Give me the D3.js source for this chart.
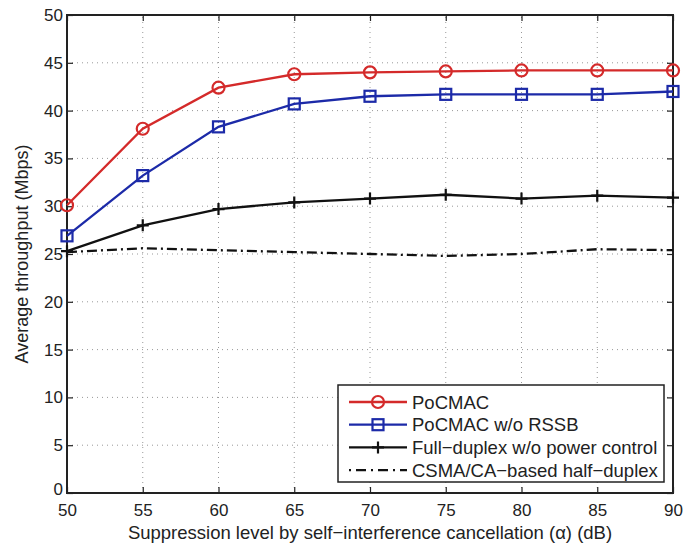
<!DOCTYPE html>
<html>
<head>
<meta charset="utf-8">
<script src="https://cdn.jsdelivr.net/npm/d3@7"></script>
<style>
  body { margin: 0; background: #fff; }
  svg { display: block; font-family: "Liberation Sans", Arial, sans-serif; }
</style>
</head>
<body>
<svg id="chart" width="693" height="545"></svg>
<script>
// suppression level (dB)
const alphaDb = [50, 55, 60, 65, 70, 75, 80, 85, 90];
const pocmac = [30.1, 38.1, 42.4, 43.8, 44.0, 44.1, 44.2, 44.2, 44.2];
const pocmacNoRssb = [26.9, 33.2, 38.3, 40.7, 41.5, 41.7, 41.7, 41.7, 42.0];
const fullDuplex = [25.3, 28.0, 29.7, 30.4, 30.8, 31.2, 30.8, 31.1, 30.9];
const csmaHalf = [25.2, 25.6, 25.4, 25.2, 25.0, 24.8, 25.0, 25.5, 25.4];
const xTicks = [50, 55, 60, 65, 70, 75, 80, 85, 90];
const yTicks = [0, 5, 10, 15, 20, 25, 30, 35, 40, 45, 50];
const seriesNames = ["PoCMAC", "PoCMAC w/o RSSB", "Full\u2212duplex w/o power control", "CSMA/CA\u2212based half\u2212duplex"];

const margin = {left: 67, top: 15, right: 20, bottom: 52};
const width = 693, height = 545;
const svg = d3.select("#chart");
const ink = "#222";

const x = d3.scaleLinear().domain([50, 90]).range([margin.left, width - margin.right]);
const y = d3.scaleLinear().domain([0, 50]).range([height - margin.bottom, margin.top]);

// grid
const grid = svg.append("g").attr("stroke", "#999").attr("stroke-width", 1).attr("stroke-dasharray", "1,4");
grid.selectAll(".gx").data(xTicks.slice(1, -1)).join("line")
  .attr("x1", d => x(d)).attr("x2", d => x(d))
  .attr("y1", y(0)).attr("y2", y(50));
grid.selectAll(".gy").data(yTicks.slice(1, -1)).join("line")
  .attr("y1", d => y(d)).attr("y2", d => y(d))
  .attr("x1", x(50)).attr("x2", x(90));

// axes with inward ticks
const tl = 6;
svg.append("g").attr("transform", `translate(0,${y(0)})`)
  .call(d3.axisBottom(x).tickValues(xTicks).tickSize(-tl).tickPadding(11))
  .call(g => g.select(".domain").remove());
svg.append("g").attr("transform", `translate(0,${y(50)})`)
  .call(d3.axisTop(x).tickValues(xTicks).tickSize(-tl).tickFormat(""))
  .call(g => g.select(".domain").remove());
svg.append("g").attr("class", "yaxis").attr("transform", `translate(${x(50)},0)`)
  .call(d3.axisLeft(y).tickValues(yTicks).tickSize(-tl).tickPadding(4))
  .call(g => g.select(".domain").remove())
  .call(g => g.selectAll(".tick text").filter(d => d === 0).attr("dy", "0.1em"));
svg.append("g").attr("transform", `translate(${x(90)},0)`)
  .call(d3.axisRight(y).tickValues(yTicks).tickSize(-tl).tickFormat(""))
  .call(g => g.select(".domain").remove());
svg.selectAll(".tick text").attr("font-size", 17).attr("fill", ink)
  .attr("font-family", "Liberation Sans, Arial, sans-serif");
svg.selectAll(".tick line").attr("stroke", ink).attr("stroke-width", 1.2);

svg.append("rect")
  .attr("x", x(50)).attr("y", y(50))
  .attr("width", x(90) - x(50)).attr("height", y(0) - y(50))
  .attr("fill", "none").attr("stroke", ink).attr("stroke-width", 2);

// series
const series = [
  {name: seriesNames[0], values: pocmac, color: "#d42a2a", marker: "circle", dash: null},
  {name: seriesNames[1], values: pocmacNoRssb, color: "#1c2aa8", marker: "square", dash: null},
  {name: seriesNames[2], values: fullDuplex, color: "#111", marker: "plus", dash: null},
  {name: seriesNames[3], values: csmaHalf, color: "#111", marker: null, dash: "10,4,2,4"}
];

const line = d3.line().x(d => x(d[0])).y(d => y(d[1]));

function drawMarker(g, type, color) {
  if (type === "circle") {
    g.append("circle").attr("r", 6).attr("fill", "none").attr("stroke", color).attr("stroke-width", 2.2);
  } else if (type === "square") {
    g.append("rect").attr("x", -5.5).attr("y", -5.5).attr("width", 11).attr("height", 11)
      .attr("fill", "none").attr("stroke", color).attr("stroke-width", 2.2);
  } else if (type === "plus") {
    g.append("path").attr("d", "M-6,0H6M0,-6V6").attr("stroke", color).attr("stroke-width", 2.2);
  }
}

series.forEach(s => {
  const pts = alphaDb.map((a, i) => [a, s.values[i]]);
  svg.append("path").datum(pts)
    .attr("d", line).attr("fill", "none")
    .attr("stroke", s.color).attr("stroke-width", 2.3)
    .attr("stroke-dasharray", s.dash);
  if (s.marker) {
    pts.forEach(p => {
      const g = svg.append("g").attr("transform", `translate(${x(p[0])},${y(p[1])})`);
      drawMarker(g, s.marker, s.color);
    });
  }
});

// legend
const lg = svg.append("g").attr("transform", "translate(338,385)");
lg.append("rect").attr("width", 326).attr("height", 97)
  .attr("fill", "#fff").attr("stroke", ink).attr("stroke-width", 1.5);
series.forEach((s, i) => {
  const row = lg.append("g").attr("transform", `translate(0,${17 + i * 22.7})`);
  row.append("line").attr("x1", 11).attr("x2", 69)
    .attr("stroke", s.color).attr("stroke-width", 2.3)
    .attr("stroke-dasharray", s.dash ? "2,5,10,5" : null);
  if (s.marker) {
    const m = row.append("g").attr("transform", "translate(40,0)");
    drawMarker(m, s.marker, s.color);
  }
  row.append("text").attr("x", 74).attr("y", 6.5)
    .attr("font-size", 18.5).attr("fill", ink).text(s.name);
});

// axis titles
svg.append("text")
  .attr("x", (x(50) + x(90)) / 2).attr("y", 539)
  .attr("text-anchor", "middle").attr("font-size", 18.5).attr("fill", ink)
  .text("Suppression level by self\u2212interference cancellation (\u03b1) (dB)");
svg.append("text")
  .attr("transform", `translate(28,${(y(0) + y(50)) / 2}) rotate(-90)`)
  .attr("text-anchor", "middle").attr("font-size", 18).attr("fill", ink)
  .text("Average throughput (Mbps)");
</script>
</body>
</html>
